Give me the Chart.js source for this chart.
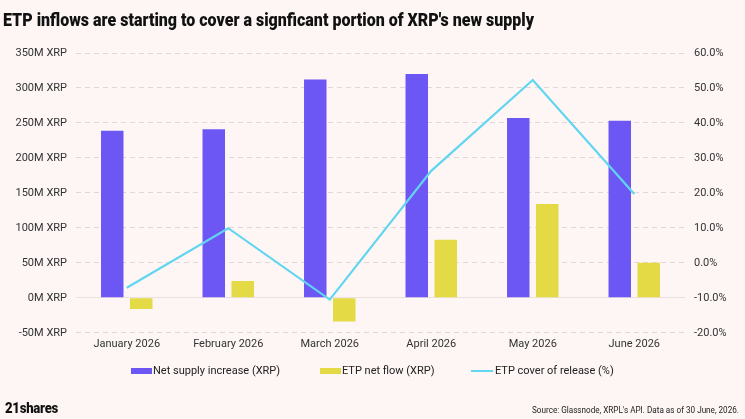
<!DOCTYPE html>
<html>
<head>
<meta charset="utf-8">
<script src="https://cdn.jsdelivr.net/npm/chart.js@4/dist/chart.umd.min.js"></script>
<style>
  html, body { margin: 0; padding: 0; background: #fdf6f5; }
  #wrap { position: relative; width: 745px; height: 419px; overflow: hidden; background: #fdf6f5; font-family: Roboto, "Liberation Sans", sans-serif; }
  #chart { position: absolute; left: 0; top: 0; width: 745px; height: 419px; }
  .fit { position: absolute; white-space: nowrap; transform-origin: left top; }
  #title { left: 3px; top: 10px; font-size: 17.5px; line-height: 20px; font-weight: 900; color: #111; }
  #logo { left: 5px; top: 400px; font-size: 15px; line-height: 16px; font-weight: 900; color: #111; letter-spacing: -0.3px; }
  #source { left: 532px; top: 405px; font-size: 8.5px; line-height: 10px; color: #222; }
  #legend { position: absolute; left: 0; top: 363px; width: 745px; height: 16px; font-size: 11px; color: #222; }
  .li { position: absolute; top: 0; height: 16px; line-height: 16px; white-space: nowrap; }
  .sw { position: absolute; top: 5px; height: 6px; width: 21px; }
  .sw.line { top: 7px; height: 2px; width: 22px; }
</style>
</head>
<body>
<div id="wrap">
  <canvas id="chart" width="745" height="419"></canvas>
  <div id="title" class="fit">ETP inflows are starting to cover a signficant portion of XRP's new supply</div>
  <div id="legend"></div>
  <div id="logo" class="fit">21shares</div>
  <div id="source" class="fit">Source: Glassnode, XRPL's API. Data as of 30 June, 2026.</div>
</div>
<script>
const months = ['January 2026', 'February 2026', 'March 2026', 'April 2026', 'May 2026', 'June 2026'];
const netSupplyIncrease = [239, 241, 312, 320, 257, 253];   // M XRP
const etpNetFlow = [-16, 24, -34, 83, 134, 50];               // M XRP
const etpCoverOfRelease = [-7.1, 9.9, -10.5, 26.3, 52.3, 19.7]; // %
const leftTicks = [-50, 0, 50, 100, 150, 200, 250, 300, 350];
const rightTicks = [-20, -10, 0, 10, 20, 30, 40, 50, 60];

const seriesNames = ['Net supply increase (XRP)', 'ETP net flow (XRP)', 'ETP cover of release (%)'];
const colors = ['#6c57f4', '#e4da46', '#62d5f1'];

const tickFont = { family: 'Roboto', size: 11 };
const tickColor = '#333333';

const chart = new Chart(document.getElementById('chart'), {
  type: 'bar',
  data: {
    labels: months,
    datasets: [
      { label: seriesNames[0], data: netSupplyIncrease, backgroundColor: colors[0], yAxisID: 'y', order: 1,
        categoryPercentage: 0.571, barPercentage: 0.776 },
      { label: seriesNames[1], data: etpNetFlow, backgroundColor: colors[1], yAxisID: 'y', order: 1,
        categoryPercentage: 0.571, barPercentage: 0.776 },
      { type: 'line', label: seriesNames[2], data: etpCoverOfRelease, borderColor: colors[2], backgroundColor: colors[2],
        borderWidth: 2.2, pointRadius: 0, tension: 0, yAxisID: 'y1', order: 0 }
    ]
  },
  options: {
    responsive: false,
    animation: false,
    devicePixelRatio: 1,
    layout: { padding: { top: 53, bottom: 63, left: 0, right: 0 } },
    plugins: { legend: { display: false }, title: { display: false }, tooltip: { enabled: false } },
    scales: {
      x: {
        grid: { display: false, drawTicks: false },
        border: { display: false },
        ticks: { font: tickFont, color: tickColor, padding: 5, maxRotation: 0, autoSkip: false }
      },
      y: {
        position: 'left',
        min: -50, max: 350,
        afterFit: s => { s.width = 76; },
        afterBuildTicks: s => { s.ticks = leftTicks.map(v => ({ value: v })); },
        grid: {
          drawTicks: false,
          lineWidth: 1,
          color: ctx => (ctx.tick && ctx.tick.value === 0) ? 'rgba(0,0,0,0)' : '#e2d6d6'
        },
        border: { display: false, dash: [5, 4] },
        ticks: { font: tickFont, color: tickColor, padding: 9, callback: v => v + 'M XRP' }
      },
      y1: {
        position: 'right',
        min: -20, max: 60,
        afterFit: s => { s.width = 60; },
        afterBuildTicks: s => { s.ticks = rightTicks.map(v => ({ value: v })); },
        grid: {
          drawTicks: false,
          lineWidth: 1,
          color: ctx => (ctx.tick && ctx.tick.value === -10) ? '#ecdfdf' : 'rgba(0,0,0,0)'
        },
        border: { display: false },
        ticks: { font: tickFont, color: tickColor, padding: 9, callback: v => v.toFixed(1) + '%' }
      }
    }
  }
});

// HTML legend built from dataset labels and colours
const legendPos = [131, 320, 471];
const legend = document.getElementById('legend');
chart.data.datasets.forEach((ds, i) => {
  const item = document.createElement('div');
  item.className = 'li';
  item.style.left = legendPos[i] + 'px';
  const sw = document.createElement('span');
  sw.className = 'sw' + (ds.type === 'line' ? ' line' : '');
  sw.style.background = colors[i];
  const tx = document.createElement('span');
  tx.textContent = ds.label;
  tx.style.marginLeft = (ds.type === 'line' ? 24 : 22) + 'px';
  item.appendChild(sw);
  item.appendChild(tx);
  legend.appendChild(item);
});

// fit condensed texts to target widths
function fitWidth(id, w) {
  const el = document.getElementById(id);
  const r = el.getBoundingClientRect().width;
  el.style.transform = 'scaleX(' + (w / r) + ')';
}
fitWidth('title', 531);
fitWidth('logo', 53);
fitWidth('source', 207);
</script>
</body>
</html>
